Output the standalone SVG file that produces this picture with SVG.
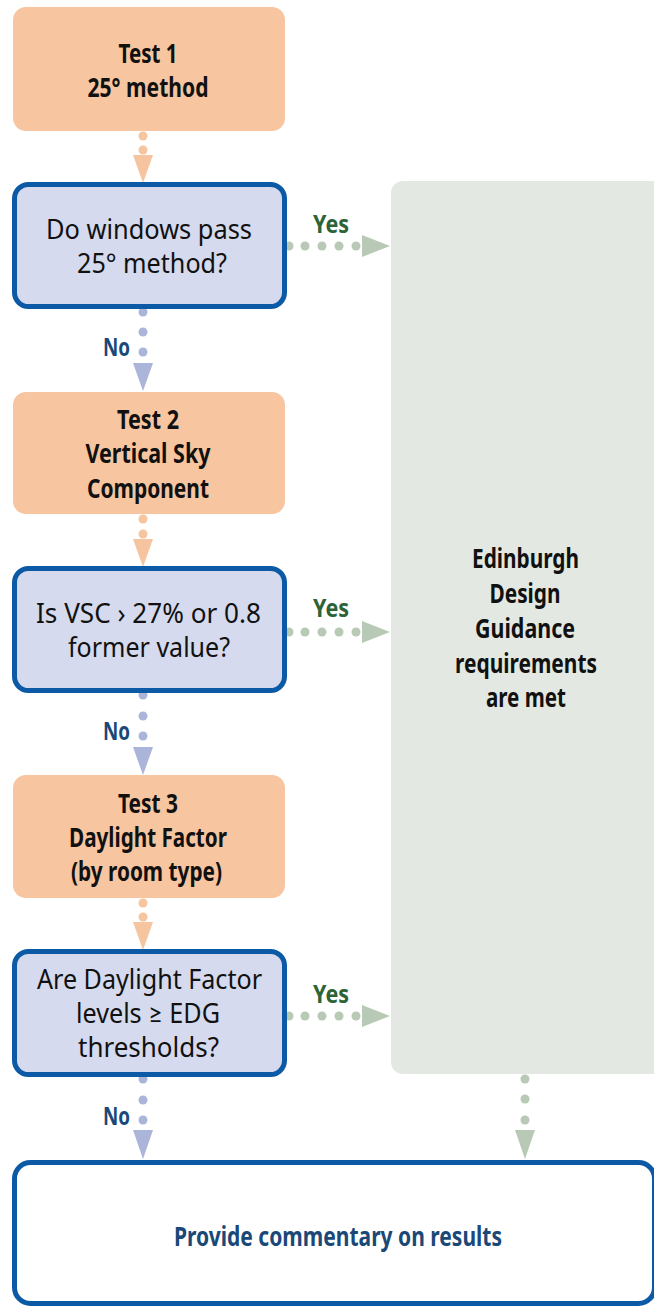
<svg xmlns="http://www.w3.org/2000/svg" width="654" height="1307" viewBox="0 0 654 1307">
<style>
.orange{fill:#f7c59f}
.q{fill:#d5daee;stroke:#0c5aa6;stroke-width:5}
.green{fill:#e3e8e2}
.final{fill:#ffffff;stroke:#0c5aa6;stroke-width:5}
.t{font-family:"Noto Sans",Lato,sans-serif;text-anchor:middle}
.b{font-weight:bold;font-size:26.5px;fill:#111}
.r{font-size:26.5px;fill:#111}
.yes{font-family:"Noto Sans",Lato,sans-serif;font-weight:bold;font-size:25px;fill:#2c6437;text-anchor:middle}
.no{font-family:"Noto Sans",Lato,sans-serif;font-weight:bold;font-size:25px;fill:#1a4877;text-anchor:end}
.ao{fill:#f6c49e}
.ab{fill:#abb4d9}
.ag{fill:#b8c9b5}
</style>
<g id="connectors">
  <g class="ao">
    <circle cx="143" cy="136" r="4.5"/><circle cx="143" cy="150" r="4.5"/><polygon points="133,155 153,155 143,183"/>
    <circle cx="143" cy="519" r="4.5"/><circle cx="143" cy="534" r="4.5"/><polygon points="133,539 153,539 143,567"/>
    <circle cx="143" cy="903" r="4.5"/><circle cx="143" cy="917" r="4.5"/><polygon points="133,922 153,922 143,950"/>
  </g>
  <g class="ab">
    <circle cx="143" cy="312" r="4.5"/><circle cx="143" cy="332" r="4.5"/><circle cx="143" cy="352" r="4.5"/><polygon points="133,363 153,363 143,391"/>
    <circle cx="143" cy="695" r="4.5"/><circle cx="143" cy="716" r="4.5"/><circle cx="143" cy="736" r="4.5"/><polygon points="133,747 153,747 143,775"/>
    <circle cx="143" cy="1079" r="4.5"/><circle cx="143" cy="1100" r="4.5"/><circle cx="143" cy="1120" r="4.5"/><polygon points="133,1130 153,1130 143,1159"/>
  </g>
  <g class="ag">
    <circle cx="289" cy="246" r="4.5"/><circle cx="305" cy="246" r="4.5"/><circle cx="322" cy="246" r="4.5"/><circle cx="339" cy="246" r="4.5"/><circle cx="356" cy="246" r="4.5"/><polygon points="362,235 362,257 390,246"/>
    <circle cx="289" cy="632" r="4.5"/><circle cx="305" cy="632" r="4.5"/><circle cx="322" cy="632" r="4.5"/><circle cx="339" cy="632" r="4.5"/><circle cx="356" cy="632" r="4.5"/><polygon points="362,621 362,643 390,632"/>
    <circle cx="289" cy="1016" r="4.5"/><circle cx="305" cy="1016" r="4.5"/><circle cx="322" cy="1016" r="4.5"/><circle cx="339" cy="1016" r="4.5"/><circle cx="356" cy="1016" r="4.5"/><polygon points="362,1005 362,1027 390,1016"/>
    <circle cx="525" cy="1079" r="4.5"/><circle cx="525" cy="1099" r="4.5"/><circle cx="525" cy="1120" r="4.5"/><polygon points="515,1130 535,1130 525,1159"/>
  </g>
  <text class="yes" x="331" y="233" textLength="36" lengthAdjust="spacingAndGlyphs">Yes</text>
  <text class="yes" x="331" y="617" textLength="36" lengthAdjust="spacingAndGlyphs">Yes</text>
  <text class="yes" x="331" y="1003" textLength="36" lengthAdjust="spacingAndGlyphs">Yes</text>
  <text class="no" x="130" y="356" textLength="27" lengthAdjust="spacingAndGlyphs">No</text>
  <text class="no" x="130" y="740" textLength="27" lengthAdjust="spacingAndGlyphs">No</text>
  <text class="no" x="130" y="1125" textLength="27" lengthAdjust="spacingAndGlyphs">No</text>
</g>
<g id="test1">
  <rect class="orange" x="13" y="7" width="272" height="124" rx="13"/>
  <text class="t b" x="148" y="63" textLength="59" lengthAdjust="spacingAndGlyphs">Test 1</text>
  <text class="t b" x="148" y="97" textLength="121" lengthAdjust="spacingAndGlyphs">25° method</text>
</g>
<g id="q1">
  <rect class="q" x="14.5" y="184.5" width="270" height="122" rx="14"/>
  <text class="t r" x="149" y="239" textLength="206" lengthAdjust="spacingAndGlyphs">Do windows pass</text>
  <text class="t r" x="152" y="273" textLength="150" lengthAdjust="spacingAndGlyphs">25° method?</text>
</g>
<g id="test2">
  <rect class="orange" x="13" y="392" width="272" height="122" rx="13"/>
  <text class="t b" x="148" y="429" textLength="62" lengthAdjust="spacingAndGlyphs">Test 2</text>
  <text class="t b" x="148" y="463" textLength="125" lengthAdjust="spacingAndGlyphs">Vertical Sky</text>
  <text class="t b" x="148" y="498" textLength="122" lengthAdjust="spacingAndGlyphs">Component</text>
</g>
<g id="q2">
  <rect class="q" x="14.5" y="568.5" width="270" height="122" rx="14"/>
  <text class="t r" x="148.5" y="623" textLength="225" lengthAdjust="spacingAndGlyphs">Is VSC › 27% or 0.8</text>
  <text class="t r" x="149" y="657" textLength="162" lengthAdjust="spacingAndGlyphs">former value?</text>
</g>
<g id="test3">
  <rect class="orange" x="13" y="775" width="272" height="123" rx="13"/>
  <text class="t b" x="148" y="813" textLength="60" lengthAdjust="spacingAndGlyphs">Test 3</text>
  <text class="t b" x="148" y="847" textLength="158" lengthAdjust="spacingAndGlyphs">Daylight Factor</text>
  <text class="t b" x="146.5" y="881" textLength="151" lengthAdjust="spacingAndGlyphs">(by room type)</text>
</g>
<g id="q3">
  <rect class="q" x="14.5" y="951.5" width="270" height="123" rx="14"/>
  <text class="t r" x="149.5" y="989" textLength="225" lengthAdjust="spacingAndGlyphs">Are Daylight Factor</text>
  <text class="t r" x="148" y="1023" textLength="144" lengthAdjust="spacingAndGlyphs">levels ≥ EDG</text>
  <text class="t r" x="148.5" y="1057" textLength="141" lengthAdjust="spacingAndGlyphs">thresholds?</text>
</g>
<g id="edg">
  <rect class="green" x="391" y="181" width="290" height="893" rx="12"/>
  <text class="t b" x="525.5" y="568" textLength="107" lengthAdjust="spacingAndGlyphs">Edinburgh</text>
  <text class="t b" x="525" y="603" textLength="71" lengthAdjust="spacingAndGlyphs">Design</text>
  <text class="t b" x="525" y="638" textLength="100" lengthAdjust="spacingAndGlyphs">Guidance</text>
  <text class="t b" x="526" y="673" textLength="142" lengthAdjust="spacingAndGlyphs">requirements</text>
  <text class="t b" x="526" y="707" textLength="80" lengthAdjust="spacingAndGlyphs">are met</text>
</g>
<g id="commentary">
  <rect class="final" x="14.5" y="1162.5" width="640" height="141" rx="16"/>
  <text class="t b" x="338" y="1246" style="fill:#1a4877" textLength="328" lengthAdjust="spacingAndGlyphs">Provide commentary on results</text>
</g>
</svg>
